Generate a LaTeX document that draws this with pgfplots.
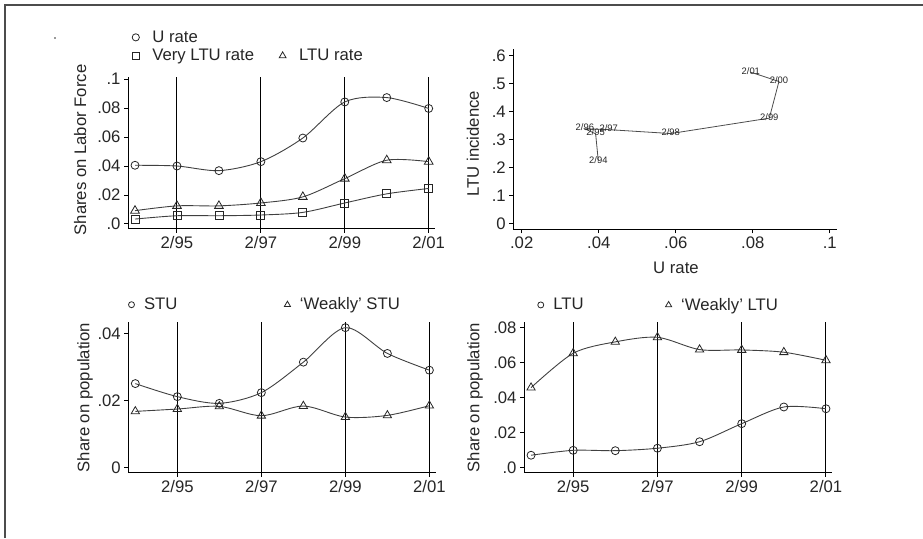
\documentclass[border=0pt]{standalone}
\usepackage{fontspec}
\setmainfont{Liberation Sans}
\usepackage{pgfplots}
\pgfplotsset{compat=1.18}

\newcommand{\bigf}{\fontsize{16.7}{19}\selectfont}
\newcommand{\smallf}{\fontsize{9.4}{11}\selectfont}

\pgfplotsset{
  panel/.style={
    scale only axis,
    anchor=south west,
    axis x line*=bottom,
    axis y line*=left,
    axis line style={line width=1pt,-},
    every tick/.style={black,line width=1pt},
    tick align=outside,
    major tick length=4pt,
    scaled x ticks=false,
    scaled y ticks=false,
    font=\bigf,
    /pgf/number format/assume math mode=true,
    tick label style={font=\bigf, text=black!85},
    label style={font=\bigf, text=black!85},
    legend cell align=left,
    legend style={draw=none, fill=none, inner sep=0pt, anchor=west, font=\bigf,
      text=black!85, row sep=1.5pt},
    legend image code/.code={\draw[##1] plot coordinates {(0pt,0pt)};},
  },
  years/.style={
    xmin=93.833, xmax=101.15,
    xtick={95,97,99,101},
    xticklabels={2/95,2/97,2/99,2/01},
    xmajorgrids,
    major grid style={black, line width=1pt},
  },
  curve/.style={smooth, black!75, line width=0.9pt,
    mark options={solid, black!85, line width=0.8pt, fill=none}},
  lgd/.style={only marks, black!85, line width=0.8pt},
}

\begin{document}
\begin{tikzpicture}
\useasboundingbox (0pt,0pt) rectangle (923pt,538pt);
\draw[line width=1.5pt, black!70] (5pt,0pt) -- (5pt,533pt) -- (923pt,533pt);
\fill[black!80] (55pt,500pt) circle (0.9pt);

% top left: shares on labour force
\begin{axis}[panel, years, at={(128pt,309pt)}, width=307pt, height=152pt,
  ymin=-0.00345, ymax=0.1014,
  ytick={0,0.02,0.04,0.06,0.08,0.1},
  yticklabels={.0,.02,.04,.06,.08,.1},
  ylabel={Shares on Labor Force},
  ylabel style={at={(axis description cs:-0.156,0.52)}, anchor=center},
  legend columns=2,
  legend style={at={(axis description cs:0.013,1.2)},
    /tikz/every odd column/.append style={column sep=11pt},
    /tikz/every even column/.append style={column sep=23pt}},
]
\addplot[curve, mark=o, mark size=4pt, forget plot] coordinates {
(94,0.0405)(95,0.0400)(96,0.0368)(97,0.0430)(98,0.0593)(99,0.0842)(100,0.0872)(101,0.0797)};
\addplot[curve, mark=triangle, mark size=5pt, forget plot] coordinates {
(94,0.0092)(95,0.0125)(96,0.0125)(97,0.0145)(98,0.0187)(99,0.0313)(100,0.0440)(101,0.0430)};
\addplot[curve, mark=square, mark size=4pt, forget plot] coordinates {
(94,0.0034)(95,0.0057)(96,0.0057)(97,0.0062)(98,0.0080)(99,0.0145)(100,0.0208)(101,0.0245)};
\addlegendimage{lgd, mark=o, mark size=3.6pt}
\addlegendentry{U rate}
\addlegendimage{empty legend}
\addlegendentry{}
\addlegendimage{lgd, mark=square, mark size=3.3pt}
\addlegendentry{Very LTU rate}
\addlegendimage{lgd, mark=triangle, mark size=4pt}
\addlegendentry{LTU rate}
\end{axis}

% top right: incidence against unemployment rate
\begin{axis}[panel, at={(513.3pt,308.7pt)}, width=323.4pt, height=180.3pt,
  xmin=0.01782, xmax=0.1018, ymin=-0.02, ymax=0.624,
  xtick={0.02,0.04,0.06,0.08,0.1},
  xticklabels={.02,.04,.06,.08,.1},
  ytick={0,0.1,0.2,0.3,0.4,0.5,0.6},
  yticklabels={0,.1,.2,.3,.4,.5,.6},
  xlabel={U rate}, ylabel={LTU incidence},
  xlabel style={at={(axis description cs:0.503,-0.215)}, anchor=center},
  ylabel style={at={(axis description cs:-0.125,0.475)}, anchor=center},
]
\addplot[black!70, line width=0.8pt, nodes near coords, point meta=explicit symbolic,
  nodes near coords style={font=\smallf, text=black!85, anchor=center, yshift=1.5pt, inner sep=0pt}]
  table[x=x, y=y, meta=lab] {
x      y     lab
0.0399 0.223 2/94
0.0392 0.321 2/95
0.0364 0.339 2/96
0.0426 0.336 2/97
0.0587 0.322 2/98
0.0843 0.377 2/99
0.0868 0.508 2/00
0.0795 0.541 2/01
};
\end{axis}

% bottom left: short-term unemployment
\begin{axis}[panel, years, at={(128.3pt,65.3pt)}, width=307.4pt, height=150.4pt,
  ymin=-0.00161, ymax=0.0433,
  ytick={0,0.02,0.04},
  yticklabels={0,.02,.04},
  ylabel={Share on population},
  ylabel style={at={(axis description cs:-0.141,0.5)}, anchor=center},
  legend columns=2,
  legend style={at={(axis description cs:0,1.117)},
    /tikz/every odd column/.append style={column sep=7.5pt},
    /tikz/every even column/.append style={column sep=105pt}},
]
\addplot[curve, mark=o, mark size=4pt, forget plot] coordinates {
(94,0.0250)(95,0.0211)(96,0.0191)(97,0.0223)(98,0.0314)(99,0.0417)(100,0.0340)(101,0.0290)};
\addplot[curve, mark=triangle, mark size=4.8pt, forget plot] coordinates {
(94,0.0167)(95,0.0174)(96,0.0182)(97,0.0154)(98,0.0183)(99,0.0150)(100,0.0155)(101,0.0184)};
\addlegendimage{lgd, mark=o, mark size=3pt}
\addlegendentry{STU}
\addlegendimage{lgd, mark=triangle, mark size=3.5pt}
\addlegendentry{`Weakly' STU}
\end{axis}

% bottom right: long-term unemployment
\begin{axis}[panel, years, at={(524pt,65.3pt)}, width=308.3pt, height=151pt,
  ymin=-0.00285, ymax=0.0832,
  ytick={0,0.02,0.04,0.06,0.08},
  yticklabels={.0,.02,.04,.06,.08},
  ylabel={Share on population},
  ylabel style={at={(axis description cs:-0.159,0.498)}, anchor=center},
  legend columns=2,
  legend style={at={(axis description cs:0.044,1.111)},
    /tikz/every odd column/.append style={column sep=7.5pt},
    /tikz/every even column/.append style={column sep=80pt}},
]
\addplot[curve, mark=o, mark size=4pt, forget plot] coordinates {
(94,0.0071)(95,0.0099)(96,0.0097)(97,0.0111)(98,0.0148)(99,0.0251)(100,0.0346)(101,0.0336)};
\addplot[curve, mark=triangle, mark size=4.8pt, forget plot] coordinates {
(94,0.0456)(95,0.0652)(96,0.0717)(97,0.0743)(98,0.0673)(99,0.0671)(100,0.0658)(101,0.0612)};
\addlegendimage{lgd, mark=o, mark size=3pt}
\addlegendentry{LTU}
\addlegendimage{lgd, mark=triangle, mark size=3.5pt}
\addlegendentry{`Weakly' LTU}
\end{axis}
\end{tikzpicture}
\end{document}
